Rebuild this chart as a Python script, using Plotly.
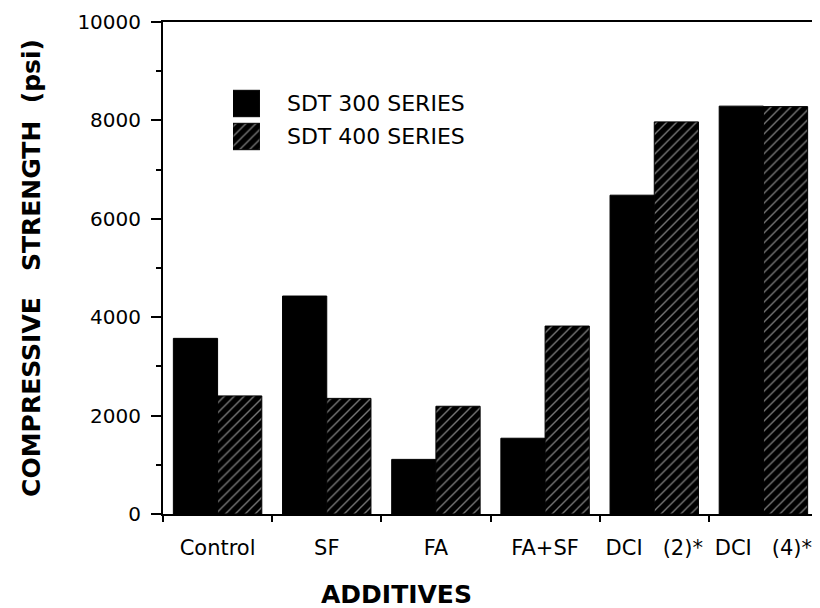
import plotly.graph_objects as go

categories = ["Control", "SF", "FA", "FA+SF", "DCI   (2)*", "DCI   (4)*"]
sdt300 = [3570, 4430, 1110, 1540, 6480, 8290]
sdt400 = [2400, 2350, 2190, 3820, 7970, 8280]
series_names = ["SDT 300 SERIES", "SDT 400 SERIES"]
y_ticks = [0, 2000, 4000, 6000, 8000, 10000]

FONT = "DejaVu Sans"
hatch = dict(shape="/", fgcolor="#ececec", bgcolor="black", size=7, solidity=0.2)

fig = go.Figure()
fig.add_trace(go.Bar(x=categories, y=sdt300, name=series_names[0],
                     marker=dict(color="black", line=dict(color="black", width=1))))
fig.add_trace(go.Bar(x=categories, y=sdt400, name=series_names[1],
                     marker=dict(color="black", pattern=hatch, line=dict(color="black", width=1))))

# legend drawn as a tiny horizontal bar chart so the swatches can be large
fig.add_trace(go.Bar(x=[1, 1], y=series_names, orientation="h", width=0.8,
                     xaxis="x2", yaxis="y2", showlegend=False, hoverinfo="skip",
                     marker=dict(color="black", line=dict(color="black", width=1),
                                 pattern=dict(shape=["", "/"], fgcolor="#ececec", bgcolor="black",
                                              size=7, solidity=0.2))))

# the page body adds an 8px margin, so the figure is shrunk and laid out in page pixels
OFF = 8
W, H = 820 - OFF, 608 - OFF
left, right, top, bottom = 163, 818.5, 22, 514  # plot area in page pixels
ml, mr, mt, mb = left - OFF, 820 - right, top - OFF, 608 - bottom
pw = right - left
ph = bottom - top


def px_x(p):
    return (p - left) / pw


def px_y(p):
    return (bottom - p) / ph


fig.update_layout(
    width=W, height=H,
    margin=dict(l=ml, r=mr, t=mt, b=mb, autoexpand=False),
    paper_bgcolor="white", plot_bgcolor="white",
    barmode="group", bargap=0.19, bargroupgap=0,
    showlegend=False,
    font=dict(family=FONT, color="black", size=20),
    xaxis=dict(
        type="category", range=[-0.5, 5.5], showline=True, linecolor="black", linewidth=2,
        mirror=True, ticks="outside", tickson="boundaries", ticklen=6, tickwidth=2,
        tickcolor="black", showgrid=False, tickfont=dict(size=21), ticklabelstandoff=14,
        automargin=False,
    ),
    yaxis=dict(
        range=[0, 10000], tickvals=y_ticks, tickformat="d", showline=True, linecolor="black",
        linewidth=2, mirror=True, ticks="outside", ticklen=10, tickwidth=2, tickcolor="black",
        showgrid=False, zeroline=False, tickfont=dict(size=20), ticklabelstandoff=6,
        automargin=False,
        minor=dict(dtick=1000, ticks="outside", ticklen=5, tickwidth=2, tickcolor="black",
                   showgrid=False),
        title=dict(text="COMPRESSIVE   STRENGTH  (psi)", font=dict(size=25, weight="bold"),
                   standoff=30),
    ),
    xaxis2=dict(domain=[px_x(233), px_x(260)], anchor="y2", range=[0, 1], visible=False),
    yaxis2=dict(domain=[px_y(153), px_y(87)], anchor="x2", side="right", type="category",
                autorange="reversed", showline=False, ticks="", showgrid=False,
                tickfont=dict(size=22), ticklabelstandoff=26, automargin=False),
    annotations=[dict(text="<b>ADDITIVES</b>", xref="paper", yref="paper",
                      x=px_x(397), y=px_y(594), xanchor="center", yanchor="middle",
                      showarrow=False, font=dict(size=25))],
)

fig.write_html("out.html")
